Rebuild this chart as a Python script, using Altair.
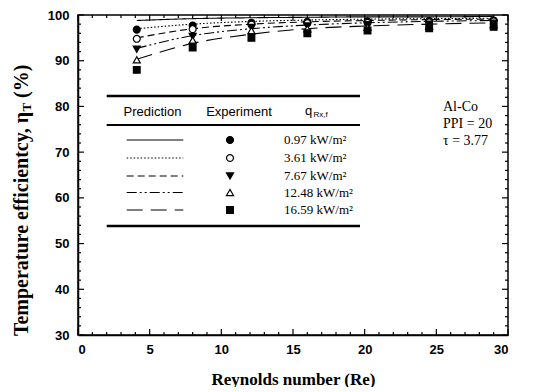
import altair as alt
import pandas as pd

# ---------------- data ----------------
re_vals = [4.1, 8.0, 12.1, 16.0, 20.2, 24.5, 29.0]
series_labels = ["0.97 kW/m²", "3.61 kW/m²", "7.67 kW/m²", "12.48 kW/m²", "16.59 kW/m²"]

exp_097 = [96.8, 97.7, 98.3, 98.5, 98.6, 98.7, 98.8]
exp_361 = [94.8, 96.9, 97.9, 98.2, 98.3, 98.4, 98.6]
exp_767 = [92.5, 95.3, 97.3, 97.6, 97.9, 98.0, 98.2]
exp_1248 = [90.2, 94.5, 96.6, 97.0, 97.3, 97.6, 97.9]
exp_1659 = [88.0, 92.9, 95.0, 96.0, 96.6, 97.1, 97.4]

pred_097 = [98.8, 99.2, 99.4, 99.5, 99.6, 99.6, 99.7]
pred_361 = [97.0, 98.0, 98.6, 98.9, 99.1, 99.2, 99.3]
pred_767 = [95.0, 97.0, 98.0, 98.5, 98.8, 99.0, 99.1]
pred_1248 = [92.7, 95.5, 97.0, 97.8, 98.3, 98.6, 98.8]
pred_1659 = [90.3, 93.8, 95.8, 97.0, 97.6, 98.0, 98.3]

x_tick_labels = [0, 5, 10, 15, 20, 25, 30]
y_tick_labels = [30, 40, 50, 60, 70, 80, 90, 100]
annotation_lines = ["Al-Co", "PPI = 20", "τ = 3.77"]

exp_series = [exp_097, exp_361, exp_767, exp_1248, exp_1659]
pred_series = [pred_097, pred_361, pred_767, pred_1248, pred_1659]

# ---------------- styles ----------------
W, H = 430, 320
dashes = [[1, 0], [1.5, 2], [7, 4], [10, 3, 2, 3, 2, 3], [16, 8]]
shapes = ["circle", "circle", "triangle-down", "triangle-up", "square"]
filled = [True, False, True, False, True]
msize = [48, 48, 50, 50, 45]

xs = alt.Scale(domain=[0, 30], nice=False, zero=False)
ys = alt.Scale(domain=[30, 100], nice=False, zero=False)
ax_x = alt.Axis(values=x_tick_labels, title="Reynolds number (Re)", ticks=False, grid=False,
                labelPadding=8, titlePadding=15, format="d")
ax_y = alt.Axis(values=y_tick_labels, title="", ticks=False, grid=False, labelPadding=9, format="d")

one = pd.DataFrame({"a": [0]})
layers = []

# inward ticks
xt = pd.DataFrame({"v": list(range(0, 31))})
xt_major = xt[xt.v % 5 == 0]
xt_minor = xt[xt.v % 5 != 0]
yt = pd.DataFrame({"v": list(range(30, 101, 2))})
yt_major = yt[yt.v % 10 == 0]
yt_minor = yt[yt.v % 10 != 0]

def xtick(df, y1, y2):
    return alt.Chart(df).mark_rule(color="black", strokeWidth=1.2).encode(
        x=alt.X("v:Q", scale=xs, axis=ax_x), y=alt.value(y1), y2=alt.value(y2))

def ytick(df, x1, x2):
    return alt.Chart(df).mark_rule(color="black", strokeWidth=1.2).encode(
        y=alt.Y("v:Q", scale=ys, axis=ax_y), x=alt.value(x1), x2=alt.value(x2))

layers += [xtick(xt_major, H, H - 6), xtick(xt_minor, H, H - 3),
           xtick(xt_major, 0, 6), xtick(xt_minor, 0, 3),
           ytick(yt_major, 0, 6), ytick(yt_minor, 0, 3),
           ytick(yt_major, W, W - 6), ytick(yt_minor, W, W - 3)]

# prediction lines
for i, lab in enumerate(series_labels):
    df = pd.DataFrame({"v": re_vals, "eta": pred_series[i]})
    layers.append(alt.Chart(df).mark_line(color="black", strokeWidth=1.1, strokeDash=dashes[i],
                                          interpolate="monotone", clip=True).encode(
        x=alt.X("v:Q", scale=xs, axis=ax_x), y=alt.Y("eta:Q", scale=ys, axis=ax_y)))

# experiment points
for i, lab in enumerate(series_labels):
    df = pd.DataFrame({"v": re_vals, "eta": exp_series[i]})
    layers.append(alt.Chart(df).mark_point(shape=shapes[i], size=msize[i], filled=True,
                                           fill="black" if filled[i] else "white",
                                           stroke="black", strokeWidth=1.2, opacity=1).encode(
        x=alt.X("v:Q", scale=xs, axis=ax_x), y=alt.Y("eta:Q", scale=ys, axis=ax_y)))

# legend table
table_rules = [(81, 2.5), (110, 2), (211, 2.5)]
for yy, sw in table_rules:
    layers.append(alt.Chart(one).mark_rule(color="black", strokeWidth=sw).encode(
        x=alt.value(28.7), x2=alt.value(282), y=alt.value(yy)))

hdr_font = "Liberation Sans"
layers.append(alt.Chart(one).mark_text(text="Prediction", font=hdr_font, fontSize=13, align="center",
                                       baseline="middle", color="black").encode(
    x=alt.value(74.5), y=alt.value(96.7)))
layers.append(alt.Chart(one).mark_text(text="Experiment", font=hdr_font, fontSize=13, align="center",
                                       baseline="middle", color="black").encode(
    x=alt.value(161), y=alt.value(96.7)))
layers.append(alt.Chart(one).mark_text(text="q", font=hdr_font, fontSize=13, align="left",
                                       baseline="middle", color="black").encode(
    x=alt.value(227), y=alt.value(95.5)))
layers.append(alt.Chart(one).mark_text(text="Rx,f", font=hdr_font, fontSize=8, align="left",
                                       baseline="middle", color="black").encode(
    x=alt.value(235.5), y=alt.value(100)))

row_y = [125, 143, 161, 177.5, 195]
for i, lab in enumerate(series_labels):
    ry = row_y[i]
    layers.append(alt.Chart(one).mark_rule(color="black", strokeWidth=1.1, strokeDash=dashes[i]).encode(
        x=alt.value(48.7), x2=alt.value(105.3), y=alt.value(ry)))
    layers.append(alt.Chart(one).mark_point(shape=shapes[i], size=msize[i], filled=True,
                                            fill="black" if filled[i] else "white",
                                            stroke="black", strokeWidth=1.2, opacity=1).encode(
        x=alt.value(152), y=alt.value(ry)))
    layers.append(alt.Chart(one).mark_text(text=lab, font="Liberation Serif", fontSize=13, align="left",
                                           baseline="middle", color="black").encode(
        x=alt.value(206), y=alt.value(ry)))

# annotation
for i, t in enumerate(annotation_lines):
    layers.append(alt.Chart(one).mark_text(text=t, font="Liberation Serif", fontSize=14, align="left",
                                           baseline="middle", color="black").encode(
        x=alt.value(365), y=alt.value(92 + 17 * i)))

# y-axis title with subscript
ty_x = -56
ty_p = 97
layers.append(alt.Chart(one).mark_text(text="Temperature efficientcy, η", font="Liberation Serif",
                                       fontSize=20, fontWeight="bold", align="right", baseline="middle",
                                       angle=270, color="black").encode(
    x=alt.value(ty_x), y=alt.value(ty_p)))
layers.append(alt.Chart(one).mark_text(text="T", font="Liberation Serif", fontSize=13, fontWeight="bold",
                                       align="left", baseline="middle", angle=270, dy=5, dx=0.5,
                                       color="black").encode(
    x=alt.value(ty_x), y=alt.value(ty_p)))
layers.append(alt.Chart(one).mark_text(text="(%)", font="Liberation Serif", fontSize=20, fontWeight="bold",
                                       align="left", baseline="middle", angle=270, dx=14,
                                       color="black").encode(
    x=alt.value(ty_x), y=alt.value(ty_p)))

chart = alt.layer(*layers).properties(
    width=W, height=H,
    autosize=alt.AutoSizeParams(type="none"),
    padding={"left": 70, "top": 7, "right": 22, "bottom": 52},
).configure_view(stroke="black", strokeWidth=1.5).configure_axis(
    labelFont="Liberation Sans", labelFontWeight="bold", labelFontSize=13, labelColor="black",
    domainColor="black", domainWidth=1.5,
    titleFont="Liberation Serif", titleFontWeight="bold", titleFontSize=17, titleColor="black",
)

chart.save("out.html", embed_options={"renderer": "svg", "actions": False})
